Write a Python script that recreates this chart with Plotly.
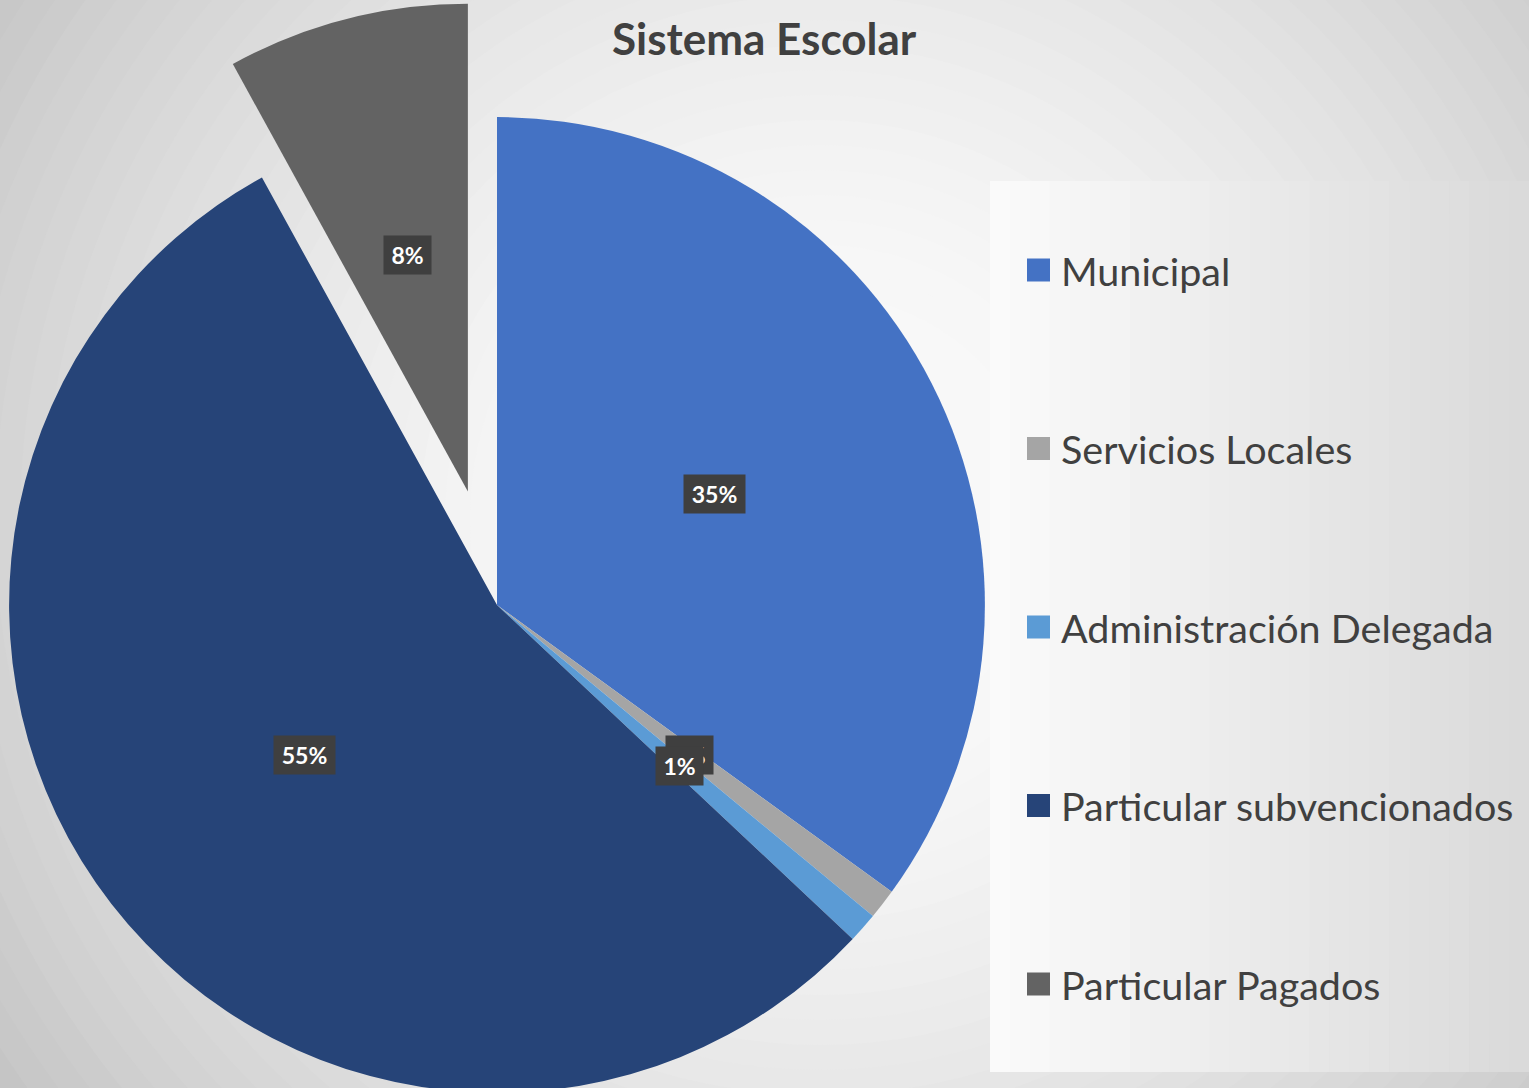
import math
import plotly.graph_objects as go

# ---------------- data ----------------
categories = ["Municipal", "Servicios Locales", "Administración Delegada",
              "Particular subvencionados", "Particular Pagados"]
values = [35.0, 1.0, 1.0, 55.0, 8.0]
colors = ["#4472C4", "#A5A5A5", "#5B9BD5", "#264478", "#636363"]
pulls = [0, 0, 0, 0, 0.24]
title_text = "Sistema Escolar"

# ---------------- layout geometry ----------------
VIEW_W, VIEW_H = 1529, 1088
OX = 108                      # figure is shifted left by this many px
PIE_BOX = 1210
W = VIEW_W + OX
H = PIE_BOX
FONT = "Lato"
TXT = "#404040"


def px(x):
    return (x + OX) / W


def py(y):
    return 1 - y / H


def gray(v):
    v = int(round(max(0, min(255, v))))
    return f"rgb({v},{v},{v})"


shapes = []
annotations = []

# background radial gradient (concentric bands)
GC = (820, 520)


def bg_level(d):
    t = max(0.0, min(1.08, (d - 200) / 750))
    return 248 - 46 * t ** 1.5


radii = list(range(1250, 0, -25))
for rad in radii:
    shapes.append(dict(type="circle", xref="paper", yref="paper",
                       xsizemode="pixel", ysizemode="pixel",
                       xanchor=px(GC[0]), yanchor=py(GC[1]),
                       x0=-rad, x1=rad, y0=-rad, y1=rad,
                       fillcolor=gray(bg_level(rad)), line=dict(width=0),
                       layer="below"))

# legend panel (horizontal gradient strips)
LX0, LX1, LY0, LY1 = 990, 1529, 181, 1072
n_strips = 27
sw = (LX1 - LX0) / n_strips
for i in range(n_strips):
    t = i / (n_strips - 1)
    shapes.append(dict(type="rect", xref="paper", yref="paper",
                       x0=px(LX0 + i * sw), x1=px(LX0 + (i + 1) * sw + 0.5),
                       y0=py(LY1), y1=py(LY0),
                       fillcolor=gray(250 - 32 * t), line=dict(width=0),
                       layer="below"))

# legend entries
LEG_Y0, LEG_STEP = 270, 178.5
for i, (cat, col) in enumerate(zip(categories, colors)):
    yc = LEG_Y0 + i * LEG_STEP
    shapes.append(dict(type="rect", xref="paper", yref="paper",
                       x0=px(1027), x1=px(1050), y0=py(yc + 11.5), y1=py(yc - 11.5),
                       fillcolor=col, line=dict(width=0), layer="above"))
    annotations.append(dict(text=cat, x=px(1059), y=py(yc), xref="paper", yref="paper",
                            xanchor="left", yanchor="middle", showarrow=False,
                            font=dict(family=FONT, size=39.5, color=TXT)))

# title
annotations.append(dict(text=title_text, x=px(764.5), y=py(38), xref="paper", yref="paper",
                        xanchor="center", yanchor="middle", showarrow=False,
                        font=dict(family=FONT, size=44, color=TXT, weight=700)))

# pie geometry (as plotly computes it)
cx, cy = PIE_BOX / 2 - OX, PIE_BOX / 2
r = (PIE_BOX / 2) / (1 + max(pulls))
total = sum(values)

# data labels at half radius on each slice's mid angle
cum = 0.0
for v, p in zip(values, pulls):
    mid = math.radians((cum + v / 2) / total * 360)
    cum += v
    ccx = cx + p * r * math.sin(mid)
    ccy = cy - p * r * math.cos(mid)
    lx = ccx + 0.5 * r * math.sin(mid)
    ly = ccy - 0.5 * r * math.cos(mid)
    txt = f"{round(v / total * 100)}%"
    annotations.append(dict(text=txt, x=px(lx), y=py(ly), xref="paper", yref="paper",
                            xanchor="center", yanchor="middle", showarrow=False,
                            bgcolor="#3f3f3f", borderpad=4, width=14 * len(txt) + 11,
                            height=30,
                            font=dict(family=FONT, size=23, color="white", weight=700)))

fig = go.Figure(go.Pie(
    labels=categories, values=values,
    marker=dict(colors=colors, line=dict(width=0)),
    pull=pulls, sort=False, direction="clockwise", rotation=0,
    textinfo="none", hoverinfo="skip", showlegend=False,
    domain=dict(x=[0, PIE_BOX / W], y=[0, 1]),
))

fig.update_layout(
    width=W, height=H,
    margin=dict(l=0, r=0, t=0, b=0),
    paper_bgcolor=gray(bg_level(1300)),
    plot_bgcolor="rgba(0,0,0,0)",
    shapes=shapes, annotations=annotations,
    showlegend=False,
    font=dict(family=FONT, color=TXT),
)

post = (
    "var gd=document.getElementById('{plot_id}');"
    "document.documentElement.style.overflow='hidden';"
    "document.body.style.margin='0';document.body.style.overflow='hidden';"
    "gd.style.marginLeft='-%dpx';" % OX
)

fig.write_html("out.html", config={"displayModeBar": False}, post_script=post)
